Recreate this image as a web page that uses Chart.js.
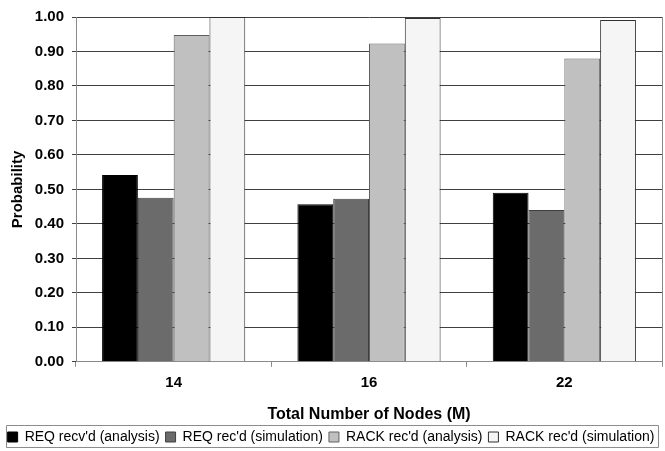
<!DOCTYPE html>
<html>
<head>
<meta charset="utf-8">
<script src="https://cdn.jsdelivr.net/npm/chart.js@4/dist/chart.umd.min.js"></script>
<style>
  html, body { margin: 0; padding: 0; background: #fff; }
  #wrap { width: 665px; height: 451px; }
</style>
</head>
<body>
<div id="wrap"><canvas id="chart"></canvas></div>
<script>
const categories = ['14', '16', '22'];
const reqAnalysis = [0.542, 0.457, 0.490];
const reqSimulation = [0.476, 0.473, 0.440];
const rackAnalysis = [0.948, 0.923, 0.880];
const rackSimulation = [1.000, 0.997, 0.991];
const seriesNames = ["REQ recv'd (analysis)", "REQ rec'd (simulation)", "RACK rec'd (analysis)", "RACK rec'd (simulation)"];
const yTicks = [0, 0.1, 0.2, 0.3, 0.4, 0.5, 0.6, 0.7, 0.8, 0.9, 1.0];

const fontName = '"Liberation Sans", Arial, sans-serif';

// draws the right border of the plot and the box round the legend
const framePlugin = {
  id: 'frame',
  afterDraw(chart) {
    const ctx = chart.ctx;
    const area = chart.chartArea;
    ctx.save();
    ctx.strokeStyle = '#8a8a8a';
    ctx.lineWidth = 1;
    ctx.beginPath();
    ctx.moveTo(Math.round(area.right) + 0.5, area.top);
    ctx.lineTo(Math.round(area.right) + 0.5, area.bottom);
    ctx.stroke();

    const boxes = chart.legend.legendHitBoxes || [];
    if (boxes.length) {
      let l = Infinity, r = -Infinity, t = Infinity, b = -Infinity;
      boxes.forEach(h => {
        l = Math.min(l, h.left); r = Math.max(r, h.left + h.width);
        t = Math.min(t, h.top); b = Math.max(b, h.top + h.height);
      });
      const x0 = Math.round(l) - 1.5;
      const x1 = Math.round(r) + 4.5;
      const y0 = Math.round(t) - 4.5;
      const y1 = Math.min(Math.round(b) + 4.5, chart.height - 3.5);
      ctx.strokeStyle = '#8c8c8c';
      ctx.beginPath();
      ctx.rect(x0, y0, x1 - x0, y1 - y0);
      ctx.stroke();
    }
    ctx.restore();
  }
};

new Chart(document.getElementById('chart'), {
  type: 'bar',
  data: {
    labels: categories,
    datasets: [
      { label: seriesNames[0], data: reqAnalysis, backgroundColor: '#000000', borderColor: '#000000' },
      { label: seriesNames[1], data: reqSimulation, backgroundColor: '#6b6b6b', borderColor: '#404040' },
      { label: seriesNames[2], data: rackAnalysis, backgroundColor: '#c0c0c0', borderColor: '#606060' },
      { label: seriesNames[3], data: rackSimulation, backgroundColor: '#f5f5f5', borderColor: '#303030' }
    ].map(d => Object.assign(d, { borderWidth: 1, barPercentage: 1, categoryPercentage: 0.733 }))
  },
  options: {
    responsive: true,
    maintainAspectRatio: false,
    animation: false,
    layout: { padding: { top: 16, right: 3, left: 0, bottom: -3 } },
    plugins: {
      tooltip: { enabled: false },
      legend: {
        position: 'bottom',
        labels: {
          color: '#000',
          font: { family: fontName, size: 14 },
          boxWidth: 10,
          boxHeight: 10,
          padding: 6
        }
      }
    },
    scales: {
      x: {
        grid: { display: true, drawOnChartArea: false, color: '#8a8a8a', tickLength: 5, offset: true },
        border: { color: '#8a8a8a' },
        ticks: { color: '#000', font: { family: fontName, size: 15, weight: 'bold' }, padding: 7 },
        title: {
          display: true,
          text: 'Total Number of Nodes (M)',
          color: '#000',
          font: { family: fontName, size: 16, weight: 'bold' },
          padding: { top: 6, bottom: 0 }
        }
      },
      y: {
        min: 0,
        max: 1,
        afterBuildTicks(scale) { scale.ticks = yTicks.map(v => ({ value: v })); },
        afterFit(scale) { scale.width = 76; },
        grid: { color: '#404040', tickLength: 4 },
        border: { color: '#8a8a8a' },
        ticks: {
          color: '#000',
          font: { family: fontName, size: 15, weight: 'bold' },
          padding: 8,
          callback: v => v.toFixed(2)
        },
        title: {
          display: true,
          text: 'Probability',
          color: '#000',
          font: { family: fontName, size: 15, weight: 'bold' },
          padding: { top: 9, bottom: 4 }
        }
      }
    }
  },
  plugins: [framePlugin]
});
</script>
</body>
</html>
